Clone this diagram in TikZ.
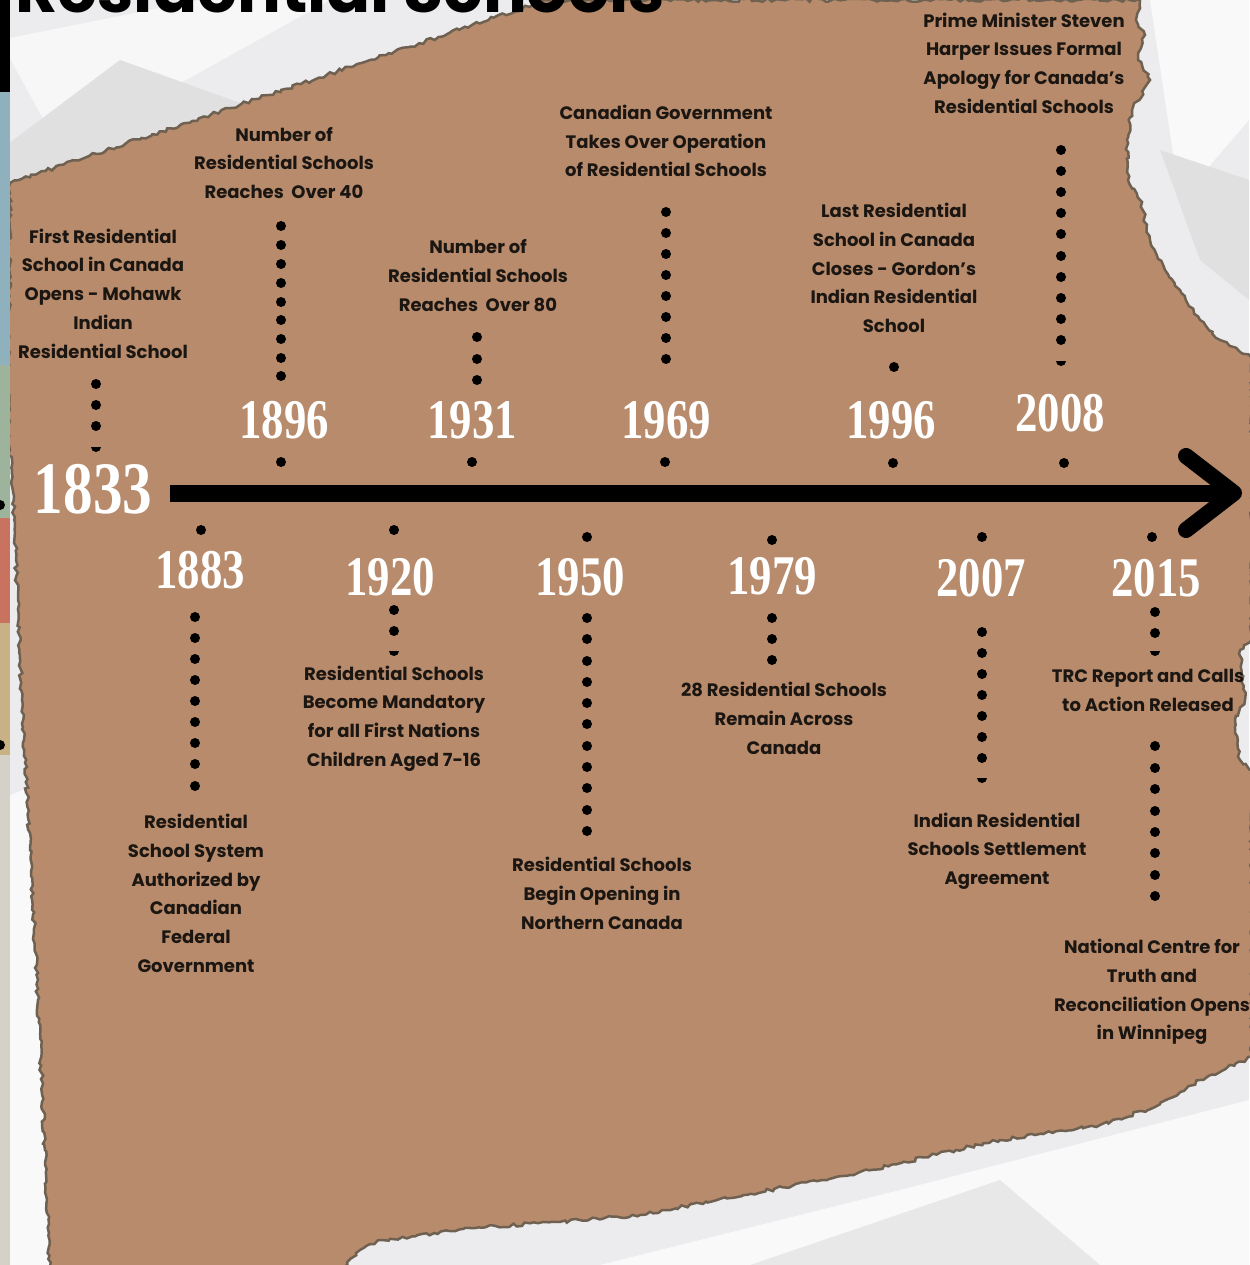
\documentclass[tikz,border=0pt]{standalone}
\usepackage{fontspec}
\setmainfont{Poppins}
\newfontfamily\yearfont{Liberation Serif}[FakeStretch=0.8]
\usetikzlibrary{decorations.pathmorphing}
\definecolor{paper}{HTML}{B78B6B}
\definecolor{tornedge}{HTML}{6F6152}
\definecolor{crumple}{HTML}{ECECEE}
\definecolor{ink}{HTML}{1B1612}
\definecolor{stripblue}{HTML}{8FB0BD}
\definecolor{stripgreen}{HTML}{9DB39B}
\definecolor{stripred}{HTML}{C8725F}
\definecolor{striptan}{HTML}{C9B186}
\definecolor{stripgrey}{HTML}{D6D1C8}
\newcommand{\apos}{{\char"27}}
\begin{document}
\begin{tikzpicture}[x=1pt,y=-1pt,
  desc/.style={font=\fontsize{18}{28.7}\selectfont\bfseries, text=ink, align=center, inner sep=0pt},
  yr/.style={font=\yearfont\fontsize{56}{56}\selectfont\bfseries, text=white, inner sep=0pt},
  bigyr/.style={font=\yearfont\fontsize{74}{74}\selectfont\bfseries, text=white, inner sep=0pt},
  torn/.style={decorate, decoration={random steps, segment length=4pt, amplitude=1.8pt}}]
\useasboundingbox (0,0) rectangle (1249,1265);
% crumpled paper background
\fill[crumple] (0,0) rectangle (1249,1265);
\fill[white!60!crumple] (0,40) -- (200,0) -- (330,0) -- (60,150) -- cycle;
\fill[black!12] (0,150) -- (120,60) -- (260,110) -- (10,183) -- cycle;
\fill[white!70!crumple] (1150,0) -- (1249,0) -- (1249,120) -- (1180,200) -- cycle;
\fill[black!12] (1160,150) -- (1249,180) -- (1249,300) -- (1200,260) -- cycle;
\fill[white!70!crumple] (600,1265) -- (900,1190) -- (1249,1100) -- (1249,1265) -- cycle;
\fill[black!9] (750,1265) -- (1000,1180) -- (1100,1265) -- cycle;
\fill[white!70!crumple] (0,800) -- (45,780) -- (50,1265) -- (0,1265) -- cycle;
% brown paper
\path[fill=paper, draw=tornedge, line width=2.5pt, torn]
  (10,183) -- (523,8) -- (545,0) -- (1140,0) -- (1136,20) -- (1145,35) -- (1138,60)
  -- (1150,80) -- (1132,110) -- (1127,140) -- (1128,180) -- (1140,200) -- (1150,240)
  -- (1165,270) -- (1180,290) -- (1200,320) -- (1220,340) -- (1240,352) -- (1252,358)
  -- (1252,640) -- (1240,650) -- (1245,700) -- (1235,720) -- (1240,760) -- (1252,770)
  -- (1252,1057) -- (1200,1080) -- (1155,1107) -- (1100,1125) -- (1000,1140) -- (956,1150)
  -- (850,1175) -- (717,1200) -- (640,1215) -- (558,1222) -- (470,1228) -- (382,1240)
  -- (360,1250) -- (343,1268) -- (50,1268) -- (45,1150) -- (38,1000) -- (30,850)
  -- (22,700) -- (16,560) -- (12,470) -- (8,440) -- cycle;
% left colour strip
\fill[black] (0,0) rectangle (10,92);
\fill[stripblue] (0,92) rectangle (10,365);
\fill[stripgreen] (0,365) rectangle (10,518);
\fill[stripred] (0,518) rectangle (10,623);
\fill[striptan] (0,623) rectangle (10,755);
\fill[stripgrey] (0,755) rectangle (10,1265);
\fill[black] (0,505) circle (5pt);
\fill[black] (0,745) circle (5pt);
% title (cut off at the top edge, as in the reference)
\node[anchor=base west, inner sep=0pt] (title) at (15,13)
  {\resizebox{650pt}{!}{\fontsize{60}{60}\selectfont\bfseries Residential Schools}};
% timeline arrow
\coordinate (arrowstart) at (170,493);
\coordinate (arrowtip) at (1234,493);
\coordinate (headup) at (1186,456);
\coordinate (headdown) at (1186,530);
\draw[line width=17pt] (arrowstart) -- (arrowtip);
\draw[line width=16pt, line cap=round, line join=round] (headup) -- (arrowtip) -- (headdown);
% dots
\foreach \x/\ys in {96/{384,405,426}, 281/{226,245,264,283,302,320,339,358,376,462},
  477/{337,359,380}, 472/{462}, 666/{212,233,254,275,296,317,338,359}, 665/{462},
  894/{367}, 893/{463}, 1061/{150,171,192,213,234,256,277,298,319,340}, 1064/{463},
  201/{530}, 195/{617,638,659,680,701,722,743,764,786},
  394/{530,610,631}, 587/{537,618,639,661,682,703,724,746,767,788,810,831},
  772/{540,618,639,660}, 982/{537,632,653,674,695,716,737,758},
  1152/{537}, 1155/{612,633,746,768,789,811,832,853,875,896}}
  {\foreach \y in \ys {\fill[black] (\x,\y) circle (5pt);}}
% partial dots
\foreach \x/\y in {96/447, 1061/361, 394/651, 982/778, 1155/651}
  {\fill[black] (\x-5,\y) arc[start angle=180, end angle=360, radius=5pt] -- cycle;}
% years
\node[bigyr] (y1833) at (93,489) {1833};
\node[yr] (y1896) at (284,420) {1896};
\node[yr] (y1931) at (472,420) {1931};
\node[yr] (y1969) at (666,420) {1969};
\node[yr] (y1996) at (891,420) {1996};
\node[yr] (y2008) at (1060,413) {2008};
\node[yr] (y1883) at (200,570) {1883};
\node[yr] (y1920) at (390,577) {1920};
\node[yr] (y1950) at (580,577) {1950};
\node[yr] (y1979) at (772,576) {1979};
\node[yr] (y2007) at (981,578) {2007};
\node[yr] (y2015) at (1156,578) {2015};
% descriptions
\node[desc] (t1833) at (103,293.5) {First Residential\\School in Canada\\Opens - Mohawk\\Indian\\Residential School};
\node[desc] (t1896) at (284,163) {Number of\\Residential Schools\\Reaches\ \ Over 40};
\node[desc] (t1931) at (478,275.5) {Number of\\Residential Schools\\Reaches\ \ Over 80};
\node[desc] (t1969) at (666,141) {Canadian Government\\Takes Over Operation\\of Residential Schools};
\node[desc] (t1996) at (894,268) {Last Residential\\School in Canada\\Closes - Gordon\apos s\\Indian Residential\\School};
\node[desc] (t2008) at (1024,63) {Prime Minister Steven\\Harper Issues Formal\\Apology for Canada\apos s\\Residential Schools};
\node[desc] (t1883) at (196,893.5) {Residential\\School System\\Authorized by\\Canadian\\Federal\\Government};
\node[desc] (t1920) at (394,718.5) {Residential Schools\\Become Mandatory\\for all First Nations\\Children Aged 7-16};
\node[desc] (t1950) at (602,893.5) {Residential Schools\\Begin Opening in\\Northern Canada};
\node[desc] (t1979) at (784,718.5) {28 Residential Schools\\Remain Across\\Canada};
\node[desc] (t2007) at (997,851) {Indian Residential\\Schools Settlement\\Agreement};
\node[desc] (t2015a) at (1148,690.5) {TRC Report and Calls\\to Action Released};
\node[desc] (t2015b) at (1152,992) {National Centre for\\Truth and\\Reconciliation Opens\\in Winnipeg};
\end{tikzpicture}
\end{document}
